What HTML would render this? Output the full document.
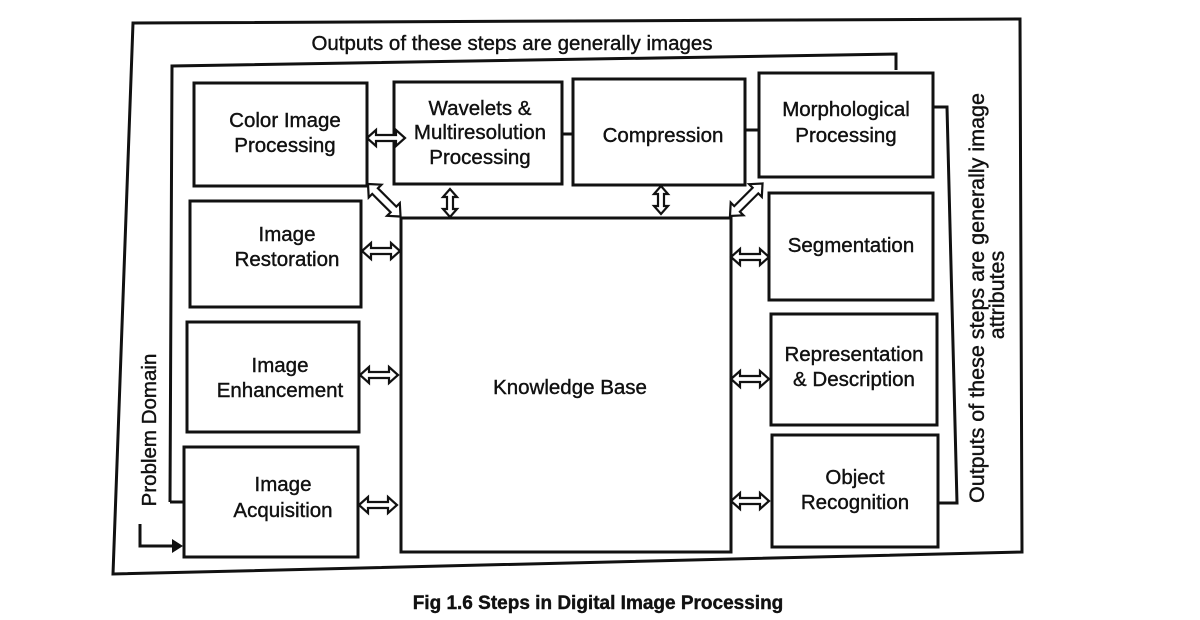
<!DOCTYPE html>
<html><head><meta charset="utf-8"><style>
body{margin:0;background:#fff;}
svg{display:block;}
text{font-family:"Liberation Sans",sans-serif;font-size:20.5px;fill:#111;stroke:#111;stroke-width:0.4;text-anchor:middle;}
.b{fill:#fff;stroke:#111;stroke-width:3;}
.l{fill:none;stroke:#111;stroke-width:3;}
.a{fill:#fff;stroke:#111;stroke-width:2.2;}
</style></head><body>
<svg width="1200" height="620" viewBox="0 0 1200 620">
<defs>
<polygon id="ha" points="0,0 9,-8 9,-3 29,-3 29,-8 38,0 29,8 29,3 9,3 9,8" class="a"/>
<polygon id="va" points="0,0 -7,8 -3,8 -3,20 -7,20 0,28 7,20 3,20 3,8 7,8" class="a"/>
</defs>
<polygon points="133,23 1020,19 1022,552 113,574" class="l"/>
<text x="512" y="50">Outputs of these steps are generally images</text>
<polyline points="170,502 172,66 896,54 896,70" class="l"/>
<line x1="170" y1="502" x2="183" y2="502" class="l"/>
<polyline points="933,107 947,107 957,503 938,503" class="l"/>
<polyline points="140,524 140,546 172,546" class="l"/>
<polygon points="172,539 183,546 172,553" fill="#111"/>
<text transform="translate(156,430) rotate(-90)">Problem Domain</text>
<text transform="translate(984,298) rotate(-90)" style="font-size:21.5px">Outputs  of these steps are generally image</text>
<text transform="translate(1004,295) rotate(-90)" style="font-size:21.5px">attributes</text>
<rect x="194" y="83" width="173" height="103" class="b"/>
<text x="285" y="127">Color Image</text><text x="285" y="152">Processing</text>
<rect x="394" y="82" width="168" height="102" class="b"/>
<text x="480" y="115">Wavelets &amp;</text><text x="480" y="139">Multiresolution</text><text x="480" y="164">Processing</text>
<rect x="573" y="79" width="172" height="106" class="b"/>
<text x="663" y="142">Compression</text>
<rect x="759" y="73" width="174" height="104" class="b"/>
<text x="846" y="116">Morphological</text><text x="846" y="142">Processing</text>
<rect x="190" y="201" width="171" height="106" class="b"/>
<text x="287" y="241">Image</text><text x="287" y="266">Restoration</text>
<rect x="187" y="322" width="172" height="110" class="b"/>
<text x="280" y="372">Image</text><text x="280" y="397">Enhancement</text>
<rect x="184" y="447" width="174" height="110" class="b"/>
<text x="283" y="491">Image</text><text x="283" y="517">Acquisition</text>
<rect x="769" y="193" width="164" height="107" class="b"/>
<text x="851" y="252">Segmentation</text>
<rect x="771" y="314" width="166" height="111" class="b"/>
<text x="854" y="361">Representation</text><text x="854" y="386">&amp; Description</text>
<rect x="772" y="435" width="166" height="112" class="b"/>
<text x="855" y="484">Object</text><text x="855" y="509">Recognition</text>
<rect x="401" y="218" width="330" height="334" class="b"/>
<text x="570" y="394">Knowledge Base</text>
<use href="#ha" x="367" y="138"/>
<line x1="562" y1="134" x2="573" y2="134" class="l" stroke-width="2"/>
<line x1="745" y1="130" x2="759" y2="130" class="l" stroke-width="2"/>
<use href="#va" x="450" y="189"/>
<use href="#va" x="661" y="186"/>
<use href="#ha" x="362" y="251"/>
<use href="#ha" x="360" y="375"/>
<use href="#ha" x="359" y="505"/>
<use href="#ha" x="731" y="257"/>
<use href="#ha" x="731" y="379"/>
<use href="#ha" x="731" y="501"/>
<g transform="translate(368,184) rotate(45)"><polygon points="0,0 10,-9 10,-4 36,-4 36,-9 46,0 36,9 36,4 10,4 10,9" class="a"/></g>
<g transform="translate(730,216) rotate(-45)"><polygon points="0,0 10,-9 10,-4 36,-4 36,-9 46,0 36,9 36,4 10,4 10,9" class="a"/></g>
<text x="598" y="609" style="font-weight:bold;font-size:19px">Fig 1.6   Steps in Digital Image Processing</text>
</svg>
</body></html>
